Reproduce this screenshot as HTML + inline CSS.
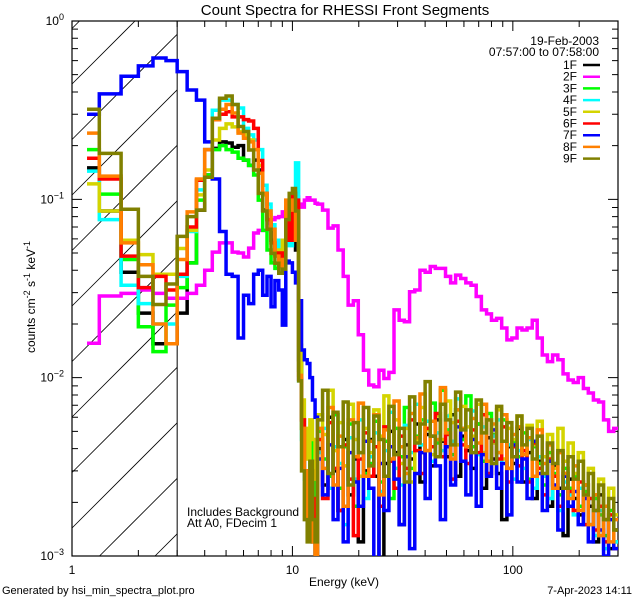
<!DOCTYPE html>
<html><head><meta charset="utf-8"><title>Count Spectra for RHESSI Front Segments</title>
<style>
html,body{margin:0;padding:0;background:#fff;width:640px;height:600px;overflow:hidden;}
svg{display:block;font-family:"Liberation Sans",sans-serif;overflow:hidden;}
</style></head>
<body>
<svg id="chart" width="640" height="600" viewBox="0 0 640 600" xmlns="http://www.w3.org/2000/svg">
<rect x="0" y="0" width="640" height="600" fill="#fff"/>
<defs><clipPath id="plotclip"><rect x="72" y="21" width="546" height="535"/></clipPath></defs>
<text x="345" y="15" font-size="15" text-anchor="middle">Count Spectra for RHESSI Front Segments</text>
<g id="hatch"></g>
<g id="axes"></g>
<g id="series" clip-path="url(#plotclip)"></g>
<g id="legend"></g>
<text transform="translate(35,297) rotate(-90)" font-size="12" text-anchor="middle">counts cm<tspan dy="-5" font-size="9">-2</tspan><tspan dy="5"> s</tspan><tspan dy="-5" font-size="9">-1</tspan><tspan dy="5"> keV</tspan><tspan dy="-5" font-size="9">-1</tspan></text>
<text x="344" y="586" font-size="12" text-anchor="middle">Energy (keV)</text>
<text x="187" y="516" font-size="12">Includes Background</text>
<text x="187" y="527" font-size="12">Att A0, FDecim 1</text>
<text x="2" y="594" font-size="11">Generated by hsi_min_spectra_plot.pro</text>
<text x="632" y="594" font-size="11" text-anchor="end">7-Apr-2023 14:11</text>
<text x="599" y="45" font-size="12" text-anchor="end">19-Feb-2003</text>
<text x="599" y="56" font-size="12" text-anchor="end">07:57:00 to 07:58:00</text>
</svg>
<script>
const energyEdgesLow = [1.17,1.33,1.67,2,2.33,2.67,3,3.33,3.67,4,4.33,4.67,5,5.33,5.67,6,6.33,6.67,7,7.33,7.67,8,8.33,8.67,9,9.33,9.67,10,10.33,10.67,11,11.33,11.67,12,12.33,12.67,13];
const energyEdgesHigh = [13.7,14.5,15.3,16.1,17,17.9,18.9,19.9,21,22.2,23.4,24.7,26,27.4,28.9,30.5,32.2,34,35.9,37.9,40,42.2,44.5,46.9,49.5,52.2,55,58,61.2,64.6,68.2,72,76,80,84.4,89,94,99,104.5,110,116,122.5,129,136,143.5,151.5,160,169,178,188,198,209,220,232,245,258,272,287,300];
const seriesNames = ["1F","2F","3F","4F","5F","6F","7F","8F","9F"];
const xTickMajor = [1,10,100];
const xTickLabels = ["1","10","100"];
const yTickMajorExp = [0,-1,-2,-3];

const s1F = [0.15,0.086,0.039,0.023,0.0155,0.0155,0.023,0.044,0.087,0.137,0.193,0.21,0.207,0.196,0.2,0.166,0.155,0.166,0.146,0.087,0.077,0.059,0.049,0.044,0.044,0.059,0.067,0.087,0.052,0.0126,0.0058,0.003,0.0021,0.0016,0.0012,0.0009,
.004,.0025,.006,.003,.0018,.0045,.0022,.0035,.0012,.003,
.0045,.0028,.0009,.0033,.005,.0038,.0015,.0042,.0035,.0055,
.0026,.0048,.0032,.0058,.0044,.0036,.0062,.0028,.0047,.0039,
.0031,.0055,.0024,.0046,.0035,.0029,.0016,.0041,.0033,.0052,
.0026,.0038,.0021,.0034,.0028,.0019,.0032,.0024,.0013,.0027,
.0021,.0017,.0025,.0019,.0012,.0022,.0016,.0011,.0014];
const s2F = [0.0156,0.0287,0.0297,0.031,0.0297,0.0279,0.0279,0.0297,0.033,0.040,0.0506,0.057,0.057,0.0506,0.050,0.0475,0.0533,0.0647,0.067,0.067,0.0736,0.077,0.079,0.080,0.085,0.0905,0.094,0.103,0.103,0.094,0.0905,0.099,0.102,0.099,0.099,0.095,
0.094,0.087,0.069,0.071,0.052,0.037,0.0255,0.027,0.0174,0.011,
0.0091,0.0089,0.011,0.0099,0.0107,0.024,0.021,0.0206,0.0303,0.031,
0.040,0.039,0.042,0.041,0.041,0.037,0.034,0.0376,0.036,0.034,
0.033,0.0285,0.024,0.0228,0.021,0.0215,0.019,0.0163,0.0167,0.019,
0.0185,0.019,0.021,0.0167,0.0134,0.0123,0.0134,0.0126,0.0105,0.0097,
0.0094,0.010,0.0087,0.0082,0.0075,0.0073,0.0058,0.005,0.0052];
const s3F = [0.19,0.107,0.046,0.0193,0.014,0.0255,0.032,0.044,0.099,0.137,0.19,0.2,0.19,0.184,0.17,0.166,0.155,0.137,0.099,0.067,0.052,0.044,0.041,0.043,0.052,0.077,0.087,0.094,0.077,0.011,0.0052,0.003,0.0021,0.0045,0.0027,0.0016,
.005,.0035,.0028,.0062,.0024,.0041,.0055,.0019,.0038,.0029,
.0033,.0057,.0026,.0044,.0021,.0052,.0036,.0068,.0031,.0047,
.0058,.0039,.0072,.0043,.0085,.0051,.0037,.0066,.0045,.0079,
.0041,.0055,.0034,.0063,.0048,.0038,.0058,.0031,.0044,.0036,
.0049,.0027,.0041,.0033,.0025,.0038,.0029,.0022,.0031,.0024,
.0028,.0019,.0023,.0015,.0021,.0017,.0013,.0018,.0012];
const s4F = [0.144,0.077,0.033,0.026,0.02,0.02,0.037,0.066,0.113,0.19,0.316,0.36,0.36,0.34,0.325,0.25,0.23,0.215,0.19,0.12,0.094,0.072,0.059,0.049,0.049,0.067,0.055,0.06,0.16,0.0096,0.0045,0.0027,0.0016,0.003,0.0016,0.0012,
.0038,.0052,.0024,.0041,.0033,.0015,.0046,.0027,.0058,.0021,
.0036,.0049,.0023,.0039,.0064,.0031,.0025,.0054,.0038,.0071,
.0042,.0057,.0034,.0049,.0039,.0061,.0044,.0076,.0052,.0041,
.0065,.0037,.0053,.0029,.0047,.0058,.0033,.0042,.0027,.0039,
.0031,.0045,.0024,.0036,.0028,.0021,.0033,.0018,.0026,.0022,
.0017,.0024,.0015,.0021,.0013,.0018,.0011,.0016,.0012];
const s5F = [0.122,0.086,0.059,0.049,0.038,0.038,0.053,0.067,0.106,0.146,0.215,0.25,0.265,0.255,0.24,0.23,0.215,0.19,0.155,0.106,0.082,0.068,0.049,0.052,0.059,0.082,0.072,0.099,0.059,0.0152,0.0075,0.0052,0.0035,0.0058,0.0045,0.0027,
.0062,.0048,.0085,.0039,.0056,.0032,.0071,.0045,.0028,.0052,
.0038,.0066,.0047,.0079,.0041,.0058,.0033,.0052,.0026,.0044,
.0068,.0051,.0037,.0061,.0045,.0074,.0056,.0042,.0069,.0053,
.0047,.0071,.0038,.0058,.0043,.0066,.0035,.0052,.0045,.0061,
.0039,.0054,.0042,.0057,.0036,.0048,.0031,.0052,.0034,.0043,
.0029,.0038,.0025,.0031,.0022,.0027,.0019,.0024,.0017];
const s6F = [0.17,0.13,0.048,0.032,0.037,0.031,0.038,0.07,0.128,0.19,0.28,0.30,0.31,0.29,0.29,0.28,0.275,0.25,0.165,0.108,0.077,0.057,0.05,0.05,0.047,0.08,0.059,0.108,0.099,0.0098,0.0058,0.003,0.0016,0.003,0.0021,0.0012,
.0045,.0021,.0056,.0031,.0018,.0042,.0027,.0013,.0035,.0049,
.0028,.0041,.0019,.0053,.0034,.0024,.0047,.0031,.0058,.0039,
.0029,.0052,.0041,.0063,.0036,.0048,.0027,.0057,.0042,.0033,
.0051,.0038,.0062,.0029,.0044,.0035,.0053,.0026,.0041,.0032,
.0039,.0026,.0043,.0031,.0022,.0035,.0028,.0019,.0029,.0023,
.0018,.0026,.0015,.0021,.0014,.0019,.0012,.0017,.0011];
const s7F = [0.30,0.39,0.49,0.56,0.62,0.60,0.52,0.41,0.36,0.21,0.13,0.066,0.038,0.037,0.0167,0.029,0.026,0.038,0.040,0.029,0.037,0.025,0.035,0.031,0.0197,0.045,0.044,0.039,0.034,0.027,0.0143,0.0126,0.012,0.010,0.0075,0.006,
.0035,.0022,.0042,.0016,.0031,.0012,.0038,.0026,.0019,.0044,
.0024,.0009,.0033,.0018,.0041,.0027,.0015,.0036,.0011,.0029,
.0038,.0021,.0047,.0032,.0016,.0041,.0025,.0053,.0034,.0022,
.0045,.0019,.0037,.0028,.0051,.0024,.0033,.0017,.0042,.0026,
.0035,.0021,.0044,.0029,.0018,.0034,.0025,.0014,.0028,.0019,
.0023,.0015,.0021,.0012,.0018,.0014,.001,.0016,.0011];
const s8F = [0.235,0.135,0.057,0.043,0.020,0.0155,0.046,0.085,0.13,0.19,0.28,0.32,0.34,0.305,0.235,0.22,0.21,0.19,0.14,0.108,0.086,0.068,0.048,0.042,0.046,0.099,0.099,0.087,0.059,0.0103,0.0052,0.003,0.0016,0.0027,0.0012,0.0009,
.0052,.0031,.0068,.0025,.0047,.0019,.0058,.0036,.0072,.0028,
.0044,.0062,.0022,.0051,.0035,.0074,.0041,.0029,.0063,.0046,
.0081,.0039,.0057,.0045,.0088,.0049,.0035,.0066,.0052,.0041,
.0059,.0043,.0071,.0034,.0055,.0038,.0062,.0031,.0048,.0053,
.0037,.0046,.0028,.0051,.0033,.0042,.0024,.0038,.0029,.0021,
.0032,.0018,.0025,.0015,.0022,.0013,.0019,.0012,.0016];
const s9F = [0.32,0.181,0.088,0.037,0.0257,0.0335,0.062,0.080,0.087,0.133,0.285,0.369,0.38,0.34,0.256,0.24,0.189,0.146,0.108,0.086,0.068,0.0498,0.0438,0.0385,0.0406,0.077,0.108,0.115,0.086,0.0096,0.003,0.0016,0.0012,0.0034,0.0016,0.0012,
.0058,.0085,.0029,.0064,.0041,.0073,.0025,.0056,.0038,.0068,
.0032,.0061,.0045,.0028,.0069,.0037,.0052,.0026,.0078,.0043,
.0055,.0095,.0047,.0036,.0071,.0058,.0042,.0083,.0051,.0066,
.0038,.0075,.0049,.0058,.0033,.0069,.0044,.0056,.0036,.0061,
.0042,.0052,.0035,.0047,.0029,.0043,.0033,.0039,.0024,.0036,
.0027,.0034,.0022,.0029,.0018,.0025,.0016,.0021,.0014];

const NS = "http://www.w3.org/2000/svg";
const PL = 72, PR = 618, PT = 21, PB = 556;
const XMIN = 1, XMAX = 300, YMIN = 1e-3, YMAX = 1;
function xScale(e){ return PL + (Math.log10(e) - Math.log10(XMIN)) / (Math.log10(XMAX) - Math.log10(XMIN)) * (PR - PL); }
function yScale(v){ const lv = Math.log10(Math.max(v, 1e-6)); return PB - (lv - Math.log10(YMIN)) / (Math.log10(YMAX) - Math.log10(YMIN)) * (PB - PT); }
function mk(tag, attrs, parent){ const el = document.createElementNS(NS, tag); for (const k in attrs) el.setAttribute(k, attrs[k]); parent.appendChild(el); return el; }

// hatching (lines x + y = c), clipped analytically to hatched box
const hatch = document.getElementById('hatch');
const hx2 = xScale(3);
let hd = "";
for (let c = 156 - 55.5*2; c < PB + hx2 + 55.5; c += 55.5) {
  const xa = Math.max(PL, c - PB), xb = Math.min(hx2, c - PT);
  if (xb > xa) hd += `M${xa.toFixed(1)},${(c-xa).toFixed(1)} L${xb.toFixed(1)},${(c-xb).toFixed(1)} `;
}
const hatchPath = mk('path', {d: hd, stroke: '#000', 'stroke-width': 0.8, fill: 'none'}, hatch);


const vline = mk('line', {x1: hx2, y1: PT, x2: hx2, y2: PB, stroke: '#000', 'stroke-width': 1}, document.getElementById('axes'));



const axes = document.getElementById('axes');
const frame = mk('rect', {x: PL, y: PT, width: PR-PL, height: PB-PT, fill: 'none', stroke: '#000', 'stroke-width': 1.2}, axes);


let td = "";
for (let d = 0; d < 3; d++) {
  for (let m = 1; m <= 9; m++) {
    const e = Math.pow(10, d) * m;
    if (e > XMAX) break;
    const x = xScale(e), len = (m === 1) ? 10 : 6;
    td += `M${x},${PB} V${PB-len} M${x},${PT} V${PT+len} `;
  }
}
for (let d = -3; d < 0; d++) {
  for (let m = 1; m <= 9; m++) {
    const y = yScale(Math.pow(10, d) * m), len = (m === 1) ? 10 : 6;
    td += `M${PL},${y} H${PL+len} M${PR},${y} H${PR-len} `;
  }
}
const tickPath = mk('path', {d: td, stroke: '#000', 'stroke-width': 1, fill: 'none'}, axes);


xTickMajor.forEach((e, i) => {
  const t = mk('text', {x: xScale(e), y: 574, 'font-size': 12, 'text-anchor': 'middle'}, axes);
  t.textContent = xTickLabels[i];
  
  
});
yTickMajorExp.forEach(p => {
  const t = mk('text', {x: 64, y: yScale(Math.pow(10, p)) + 4, 'font-size': 12, 'text-anchor': 'end'}, axes);
  t.textContent = '10';
  const s = mk('tspan', {dy: -5, 'font-size': 9}, t);
  s.textContent = p === 0 ? '0' : '\u2212' + (-p);
  
  
});

const edges = energyEdgesLow.concat(energyEdgesHigh);
const seriesValues = [s1F, s2F, s3F, s4F, s5F, s6F, s7F, s8F, s9F];
const colors = ["#000000","#ff00ff","#00ff00","#00ffff","#d4d400","#ff0000","#0000ff","#ff8000","#808000"];
const sg = document.getElementById('series');
seriesValues.forEach((vals, si) => {
  const n = Math.min(vals.length, edges.length - 1);
  const yc = v => Math.min(PB + 4, yScale(v));
  let d = `M${xScale(edges[0])},${yc(vals[0])}`;
  for (let i = 0; i < n; i++) {
    if (i > 0) d += ` V${yc(vals[i])}`;
    d += ` H${xScale(edges[i+1])}`;
  }
  const p = mk('path', {d: d, stroke: colors[si], 'stroke-width': 3.5, fill: 'none', 'stroke-linejoin': 'miter'}, sg);
  
  
});

const lg = document.getElementById('legend');
seriesNames.forEach((nm, i) => {
  const y = 65 + i * 11.7;
  const g = mk('g', {}, lg);
  
  
  const t = mk('text', {x: 577, y: y + 4, 'font-size': 12, 'text-anchor': 'end'}, g);
  t.textContent = nm;
  mk('line', {x1: 583, y1: y, x2: 600, y2: y, stroke: colors[i], 'stroke-width': 2.5}, g);
});
</script>
</body></html>
